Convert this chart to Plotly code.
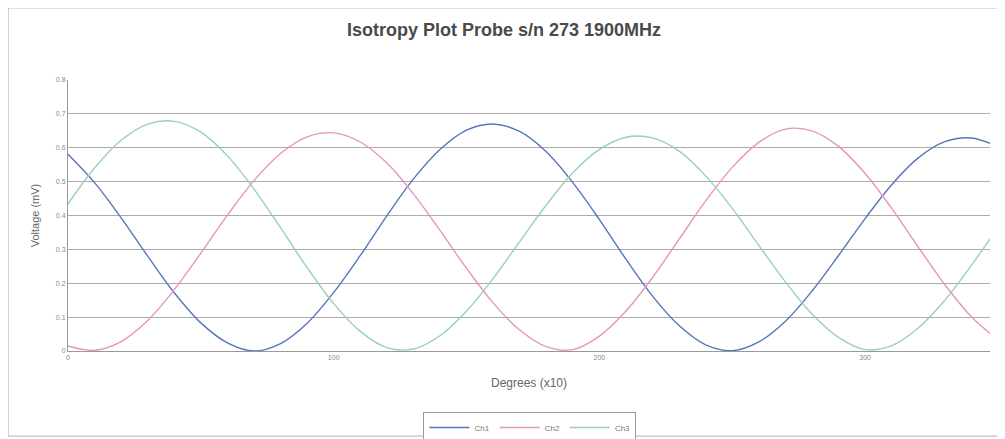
import plotly.graph_objects as go

degrees = [0, 10, 20, 30, 40, 50, 60, 70, 80, 90, 100, 110, 120, 130, 140, 150, 160, 170,
           180, 190, 200, 210, 220, 230, 240, 250, 260, 270, 280, 290, 300, 310, 320, 330, 340, 350]

ch1 = [0.581, 0.497, 0.393, 0.280, 0.172, 0.083, 0.024, 0.000, 0.022, 0.082, 0.173, 0.282,
       0.399, 0.508, 0.595, 0.652, 0.670, 0.648, 0.588, 0.497, 0.388, 0.271, 0.162, 0.075,
       0.018, 0.001, 0.027, 0.088, 0.177, 0.282, 0.391, 0.491, 0.570, 0.618, 0.629, 0.603]

ch2 = [0.015, 0.002, 0.028, 0.090, 0.181, 0.289, 0.401, 0.503, 0.583, 0.632, 0.644, 0.617,
       0.555, 0.464, 0.356, 0.244, 0.142, 0.062, 0.013, 0.004, 0.044, 0.118, 0.217, 0.330,
       0.443, 0.542, 0.616, 0.655, 0.650, 0.604, 0.524, 0.421, 0.307, 0.196, 0.101, 0.033]

ch3 = [0.434, 0.540, 0.622, 0.670, 0.678, 0.646, 0.576, 0.478, 0.364, 0.246, 0.140, 0.058,
       0.010, 0.006, 0.045, 0.118, 0.214, 0.323, 0.431, 0.526, 0.595, 0.631, 0.629, 0.590,
       0.517, 0.421, 0.312, 0.204, 0.109, 0.040, 0.004, 0.016, 0.068, 0.150, 0.253, 0.365]

series_names = ["Ch1", "Ch2", "Ch3"]
series_colors = ["#5676b6", "#e596bd", "#98cfbd"]

y_ticks = [0, 0.1, 0.2, 0.3, 0.4, 0.5, 0.6, 0.7, 0.8]
y_tick_labels = ["0", "0.1", "0.2", "0.3", "0.4", "0.5", "0.6", "0.7", "0.8"]
x_ticks = [0, 100, 200, 300]

FONT = "Arial, Liberation Sans, sans-serif"

fig = go.Figure()
for name, vals, col in zip(series_names, [ch1, ch2, ch3], series_colors):
    fig.add_trace(go.Scatter(x=degrees, y=vals, mode="lines", name=name,
                             line=dict(color=col, width=1.4, shape="spline")))

# page body has an 8px margin, so the figure is sized/offset to compensate
fig.update_layout(
    width=997, height=431,
    margin=dict(l=60, r=15, t=72, b=88, autoexpand=False),
    paper_bgcolor="white", plot_bgcolor="white",
    font=dict(family=FONT, color="#555"),
    title=dict(text="Isotropy Plot Probe s/n 273 1900MHz", x=0.4975, xref="container",
               y=0.949, yref="container", xanchor="center", yanchor="middle",
               font=dict(size=18, color="#4a4a4a", family=FONT, weight="bold")),
    xaxis=dict(range=[0, 347], tickvals=x_ticks, showgrid=False, automargin=False,
               showline=True, linecolor="#999", linewidth=1, zeroline=False,
               ticks="", tickfont=dict(size=7, color="#888"),
               title=dict(text="Degrees (x10)", font=dict(size=12, color="#666"), standoff=18)),
    yaxis=dict(range=[0, 0.8], tickvals=y_ticks, ticktext=y_tick_labels, automargin=False,
               showgrid=True, gridcolor="#ababab", gridwidth=1,
               showline=True, linecolor="#999", linewidth=1, zeroline=False,
               ticks="", tickfont=dict(size=7, color="#888"),
               title=dict(text="Voltage (mV)", font=dict(size=11, color="#666"), standoff=14)),
    legend=dict(orientation="h", x=0.501, xanchor="center", y=-0.225, yanchor="top",
                bordercolor="#999", borderwidth=1, bgcolor="white",
                font=dict(size=8, color="#777"), itemwidth=40, tracegroupgap=0),
    showlegend=True,
)

fig.add_shape(type="rect", xref="paper", yref="paper",
              x0=-0.065, x1=1.011, y0=-0.314, y1=1.266,
              line=dict(color="#b0b0b0", width=1), layer="below")

fig.write_html("out.html")
